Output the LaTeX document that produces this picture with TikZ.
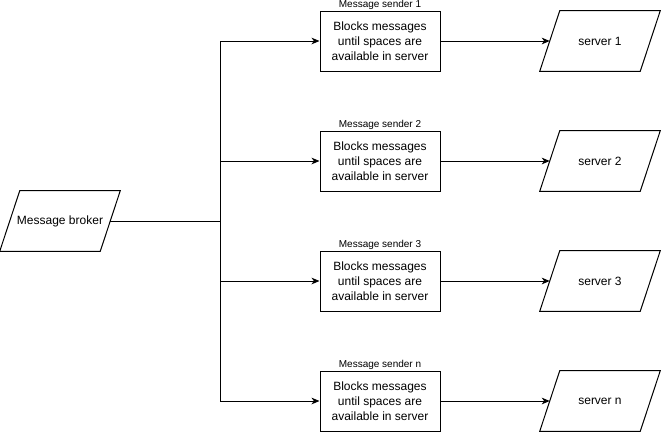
\documentclass[tikz,border=0pt]{standalone}
\usepackage{fontspec}
\setmainfont{Liberation Sans}
\usetikzlibrary{arrows.meta}

\begin{document}
\begin{tikzpicture}[x=0.75pt,y=-0.75pt,
  para/.style={rectangle,minimum width=75pt,minimum height=45pt,inner sep=0pt,
    font=\fontsize{9}{11.25}\selectfont,
    append after command={\pgfextra{\draw[line width=0.75pt]
      ([xshift=7.5pt]\tikzlastnode.north west) -- ([xshift=7.5pt]\tikzlastnode.north east)
      -- ([xshift=-7.5pt]\tikzlastnode.south east) -- ([xshift=-7.5pt]\tikzlastnode.south west) -- cycle;}}},
  sender/.style={draw,line width=0.75pt,rectangle,minimum width=90pt,minimum height=45pt,inner sep=0pt,
    align=center,font=\fontsize{9}{11.25}\selectfont,
    label={[font=\fontsize{7.5}{9}\selectfont,inner sep=0.6pt]above:#1}},
  flow/.style={line width=0.75pt,-{Stealth[length=6pt,width=5pt,inset=1.8pt]}}]
\useasboundingbox (0,0) rectangle (672,444);
\node[para] (broker) at (60,221) {Message broker};
\coordinate (trunk) at (220,221);
\node[sender={Message sender 1}] (send1) at (380,41) {Blocks messages\\until spaces are\\available in server};
\node[sender={Message sender 2}] (send2) at (380,161) {Blocks messages\\until spaces are\\available in server};
\node[sender={Message sender 3}] (send3) at (380,281) {Blocks messages\\until spaces are\\available in server};
\node[sender={Message sender n}] (sendn) at (380,401) {Blocks messages\\until spaces are\\available in server};
\node[para] (serv1) at (600,41) {server 1};
\node[para] (serv2) at (600,161) {server 2};
\node[para] (serv3) at (600,281) {server 3};
\node[para] (servn) at (600,401) {server n};
\draw[flow] (broker.east) -- (trunk) |- (send1.west);
\draw[flow] (broker.east) -- (trunk) |- (send2.west);
\draw[flow] (broker.east) -- (trunk) |- (send3.west);
\draw[flow] (broker.east) -- (trunk) |- (sendn.west);
\draw[flow] (send1.east) -- (serv1.west);
\draw[flow] (send2.east) -- (serv2.west);
\draw[flow] (send3.east) -- (serv3.west);
\draw[flow] (sendn.east) -- (servn.west);
\end{tikzpicture}
\end{document}
